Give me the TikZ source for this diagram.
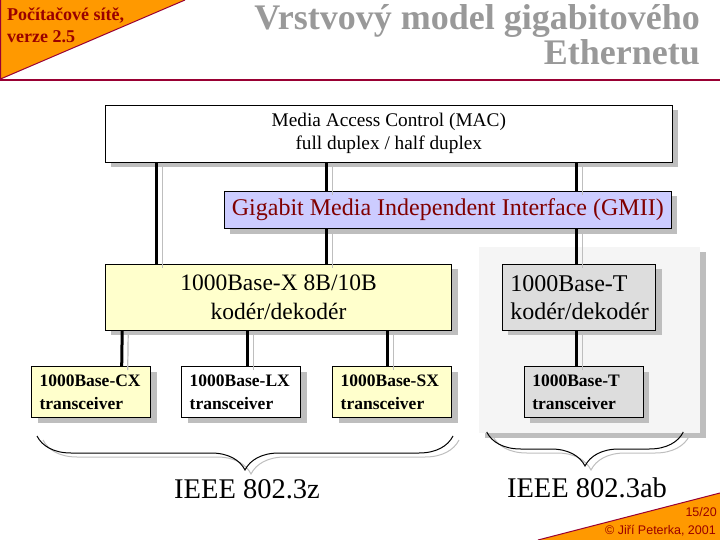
\documentclass[tikz,border=0pt]{standalone}
\usepackage{fontspec}
\setmainfont{Liberation Serif}
\newfontfamily\footfont{Liberation Sans}
\usepackage{tikz}
\usetikzlibrary{positioning,calc,decorations.pathreplacing}
\definecolor{cornerorange}{RGB}{255,153,0}
\definecolor{cornerred}{RGB}{153,0,51}
\definecolor{cornertext}{RGB}{153,0,0}
\definecolor{gmiired}{RGB}{128,0,0}
\definecolor{titlegray}{RGB}{153,153,153}
\definecolor{softviolet}{RGB}{204,204,255}
\definecolor{softyellow}{RGB}{255,255,204}
\definecolor{boxgray}{RGB}{221,221,221}
\definecolor{panelgray}{RGB}{245,245,245}
\definecolor{shadowgray}{RGB}{190,190,190}

\begin{document}
\begin{tikzpicture}[x=1pt, y=-1pt,
    shadowed/.style={preaction={fill=shadowgray, transform canvas={shift={(6pt,-5pt)}}}},
    layerbox/.style={draw, line width=1pt, shadowed, align=center},
    xcvr/.style={layerbox, text width=103pt, inner xsep=8pt, inner ysep=0pt, minimum height=51, align=left, font=\fontsize{17.5}{23}\selectfont\bfseries},
    link/.style={line width=3pt, preaction={draw=shadowgray, line width=1.2pt, transform canvas={shift={(6pt,-4pt)}}}},
    ieeebrace/.style={decorate, decoration={brace, amplitude=34pt}, line width=1pt},
    plain/.style={inner sep=0pt}]
  \useasboundingbox (0,0) rectangle (720,540);

  \fill[cornerorange] (0,0) -- (185,0) -- (0,79) -- cycle;
  \draw[cornerred, line width=1pt] (185,0) -- (0.5,79) -- (0.5,0);
  \draw[cornerred, line width=2pt] (0,80) -- (720,80);
  \fill[cornerorange] (538,540) -- (720,493) -- (720,540) -- cycle;
  \draw[cornerred, line width=1pt] (538,540) -- (720,493);

  \node[plain, anchor=base west, text=cornertext, font=\fontsize{18}{18}\selectfont\bfseries] (course) at (7,20.7) {Počítačové sítě,};
  \node[plain, anchor=base west, text=cornertext, font=\fontsize{18}{18}\selectfont\bfseries] (version) at (7,42.7) {verze 2.5};
  \node[plain, anchor=base east, text=titlegray, font=\fontsize{36}{36}\selectfont\bfseries] (title) at (700,29.5) {Vrstvový model gigabitového};
  \node[plain, anchor=base east, text=titlegray, font=\fontsize{36}{36}\selectfont\bfseries] (subtitle) at (700,64.5) {Ethernetu};

  \node[shadowed, fill=panelgray, minimum width=220.7, minimum height=186.6, inner sep=0pt] (tpanel) at (589.65,340) {};

  \node[layerbox, fill=white, minimum width=567, minimum height=57, font=\fontsize{19.3}{23}\selectfont] (mac) at (388.8,133.8) {Media Access Control (MAC)\\full duplex / half duplex};
  \node[layerbox, fill=softviolet, minimum width=447, minimum height=37, text=gmiired, font=\fontsize{24}{29}\selectfont] (gmii) at (447.8,210) {Gigabit Media Independent Interface (GMII)};
  \node[layerbox, fill=softyellow, minimum width=346.4, minimum height=65.7, font=\fontsize{23.5}{29}\selectfont] (xbox) at (278.5,297.2) {1000Base-X 8B/10B\\kodér/dekodér};
  \node[layerbox, fill=boxgray, text width=137.4pt, inner xsep=8pt, inner ysep=0pt, minimum height=65.7, align=left, font=\fontsize{24}{28}\selectfont] (tbox) at (579,297.2) {1000Base-T\\kodér/dekodér};

  \node[xcvr, fill=softyellow] (cx) at (91,392.2) {1000Base-CX\\transceiver};
  \node[xcvr, fill=white] (lx) at (241.2,392.2) {1000Base-LX\\transceiver};
  \node[xcvr, fill=softyellow] (sx) at (392.2,392.2) {1000Base-SX\\transceiver};
  \node[xcvr, fill=boxgray] (ttr) at (583.8,392.2) {1000Base-T\\transceiver};

  \draw[link] ([xshift=51.4]mac.south west) -- ([xshift=51.4]xbox.north west);
  \draw[link] ([xshift=221.4]mac.south west) -- ([xshift=102.4]gmii.north west);
  \draw[link] ([xshift=102.4]gmii.south west) -- ([xshift=221.4]xbox.north west);
  \draw[link] ([xshift=471.4]mac.south west) -- ([xshift=352.4]gmii.north west);
  \draw[link] ([xshift=352.4]gmii.south west) -- ([xshift=74.4]tbox.north west);
  \draw[link] ([xshift=17.4]xbox.south west) -- ([xshift=90.7]cx.north west);
  \draw[link] ([xshift=142.4]xbox.south west) -- ([xshift=66]lx.north west);
  \draw[link] ([xshift=283]xbox.south west) -- ([xshift=55.6]sx.north west);
  \draw[link] ([xshift=74.4]tbox.south west) -- ([xshift=52.4]ttr.north west);

  \draw[ieeebrace, shadowgray, shift={(6,4)}] (453,436) -- (37,436);
  \draw[ieeebrace] (453,436) -- (37,436);
  \draw[ieeebrace, shadowgray, shift={(6,4)}] (683.3,432) -- (486.7,432);
  \draw[ieeebrace] (683.3,432) -- (486.7,432);

  \node[plain, anchor=base, font=\fontsize{28.5}{28.5}\selectfont] (std3z) at (247,498) {IEEE 802.3z};
  \node[plain, anchor=base, font=\fontsize{28.5}{28.5}\selectfont] (std3ab) at (587,497) {IEEE 802.3ab};

  \node[plain, anchor=base east, text=cornertext, font=\footfont\fontsize{12.5}{12.5}\selectfont] (page) at (717,516) {15/20};
  \node[plain, anchor=base east, text=cornertext, font=\footfont\fontsize{12.5}{12.5}\selectfont] (copyright) at (716,534) {© Jiří Peterka, 2001};
\end{tikzpicture}
\end{document}
